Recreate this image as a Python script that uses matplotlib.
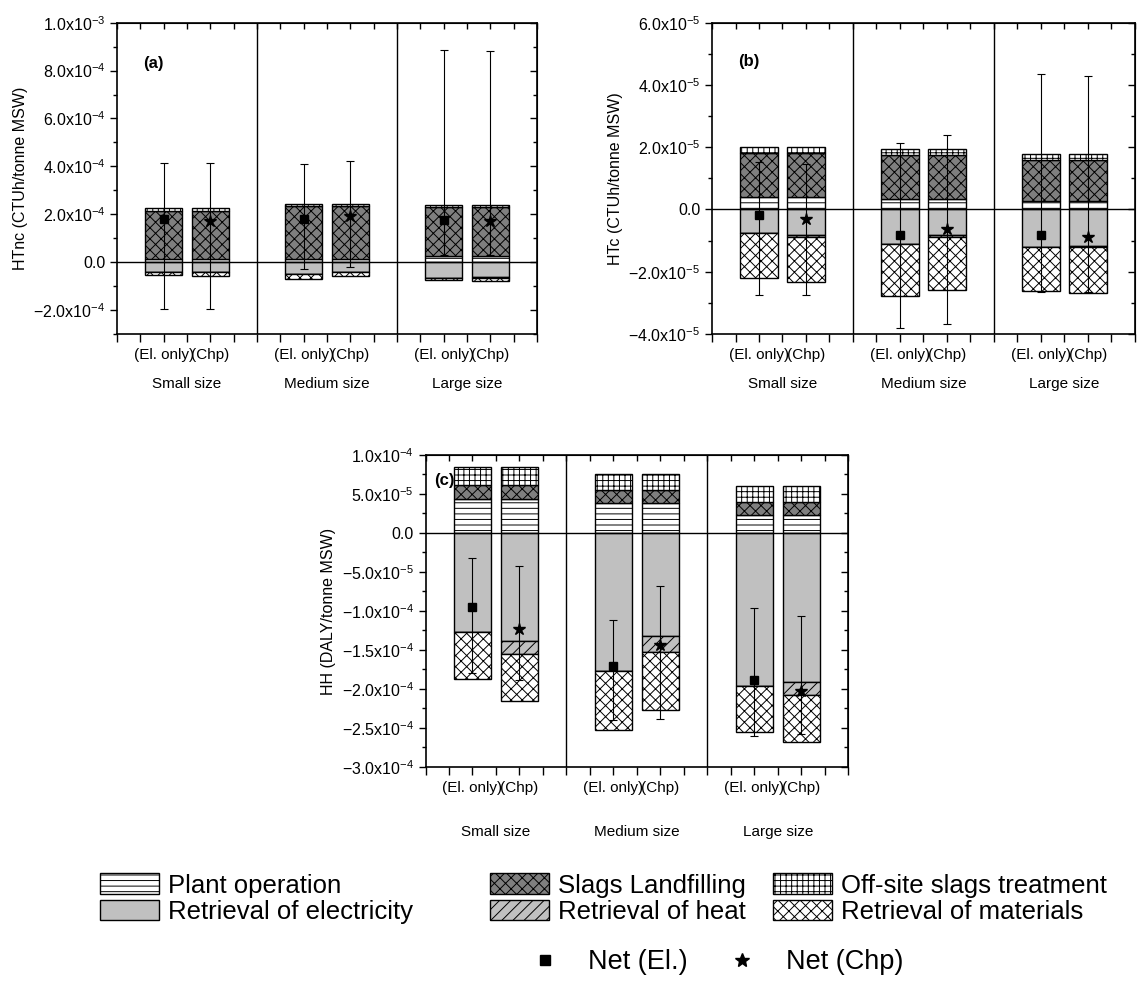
import matplotlib
matplotlib.use("Agg")
import matplotlib.pyplot as plt
import numpy as np
from matplotlib.patches import Patch
from matplotlib.lines import Line2D
from matplotlib.ticker import MultipleLocator, FuncFormatter

plt.rcParams['font.family'] = ['Liberation Sans', 'DejaVu Sans']
plt.rcParams['mathtext.fontset'] = 'custom'
plt.rcParams['mathtext.rm'] = 'Liberation Sans'
plt.rcParams['hatch.linewidth'] = 0.7

# bar order: small El, small Chp, medium El, medium Chp, large El, large Chp
positions = [1, 2, 4, 5, 7, 8]
bar_labels = ["(El. only)", "(Chp)"] * 3
sizes = ["Small size", "Medium size", "Large size"]
components = ["Plant operation", "Slags Landfilling", "Off-site slags treatment",
              "Retrieval of electricity", "Retrieval of heat", "Retrieval of materials"]

# (a) HTnc, units 1e-4
a_plant = [0.15, 0.15, 0.15, 0.15, 0.27, 0.27]
a_slag = [1.98, 1.98, 2.19, 2.19, 2.02, 2.02]
a_offsite = [0.11, 0.11, 0.08, 0.08, 0.09, 0.09]
a_elec = [-0.40, -0.40, -0.49, -0.40, -0.65, -0.62]
a_heat = [0.0, -0.03, 0.0, -0.03, 0.0, -0.03]
a_mat = [-0.12, -0.14, -0.22, -0.16, -0.10, -0.12]
a_net = [1.80, 1.72, 1.80, 1.91, 1.76, 1.72]
a_hi = [4.14, 4.12, 4.11, 4.24, 8.85, 8.83]
a_lo = [-1.97, -1.96, -0.30, -0.21, 0.30, 0.30]

# (b) HTc, units 1e-5
b_plant = [0.40, 0.40, 0.32, 0.32, 0.27, 0.27]
b_slag = [1.41, 1.41, 1.42, 1.42, 1.31, 1.31]
b_offsite = [0.20, 0.20, 0.21, 0.21, 0.20, 0.20]
b_elec = [-0.76, -0.83, -1.10, -0.81, -1.21, -1.17]
b_heat = [0.0, -0.07, 0.0, -0.09, 0.0, -0.05]
b_mat = [-1.43, -1.43, -1.68, -1.70, -1.42, -1.45]
b_net = [-0.18, -0.32, -0.83, -0.62, -0.83, -0.88]
b_hi = [1.52, 1.47, 2.12, 2.39, 4.34, 4.29]
b_lo = [-2.74, -2.74, -3.80, -3.68, -2.65, -2.65]

# (c) HH, units 1e-5
c_plant = [4.34, 4.34, 3.87, 3.87, 2.34, 2.34]
c_slag = [1.83, 1.83, 1.66, 1.66, 1.62, 1.62]
c_offsite = [2.26, 2.26, 2.04, 2.04, 2.00, 2.00]
c_elec = [-12.7, -13.8, -17.7, -13.2, -19.6, -19.1]
c_heat = [0.0, -1.7, 0.0, -2.0, 0.0, -1.7]
c_mat = [-6.0, -6.0, -7.5, -7.5, -5.9, -6.0]
c_net = [-9.5, -12.35, -17.0, -14.4, -18.8, -20.2]
c_hi = [-3.15, -4.2, -11.2, -6.8, -9.6, -10.6]
c_lo = [-18.0, -18.8, -24.0, -23.8, -26.0, -25.8]

styles = {
    "Plant operation": dict(facecolor="white", hatch="---"),
    "Slags Landfilling": dict(facecolor="#7f7f7f", hatch="xxx"),
    "Off-site slags treatment": dict(facecolor="white", hatch="+++"),
    "Retrieval of electricity": dict(facecolor="#c0c0c0", hatch=None),
    "Retrieval of heat": dict(facecolor="#c0c0c0", hatch="///"),
    "Retrieval of materials": dict(facecolor="white", hatch="xxx"),
}


def sci_label(v, pos=None):
    if abs(v) < 1e-12:
        return "0.0"
    e = int(np.floor(np.log10(abs(v)) + 1e-9))
    m = v / 10.0 ** e
    return r"$\mathregular{%.1fx10^{%d}}$" % (m, e)


def draw_panel(ax, scale, plant, slag, offsite, elec, heat, mat, net, hi, lo,
               ylim, major, minor, ylabel, tag, tag_xy, size_offset):
    x = np.array(positions, dtype=float)
    s = scale
    plant = np.array(plant) * s
    slag = np.array(slag) * s
    offsite = np.array(offsite) * s
    elec = np.array(elec) * s
    heat = np.array(heat) * s
    mat = np.array(mat) * s
    net = np.array(net) * s
    hi = np.array(hi) * s
    lo = np.array(lo) * s

    ax.text(tag_xy[0], tag_xy[1], tag, fontsize=12, fontweight="bold", zorder=1)

    kw = dict(width=0.8, edgecolor="black", linewidth=1.0, zorder=2)
    ax.bar(x, plant, **kw, **styles["Plant operation"])
    ax.bar(x, slag, bottom=plant, **kw, **styles["Slags Landfilling"])
    ax.bar(x, offsite, bottom=plant + slag, **kw, **styles["Off-site slags treatment"])
    ax.bar(x, elec, **kw, **styles["Retrieval of electricity"])
    ax.bar(x, heat, bottom=elec, **kw, **styles["Retrieval of heat"])
    ax.bar(x, mat, bottom=elec + heat, **kw, **styles["Retrieval of materials"])

    ax.axhline(0, color="black", lw=1.0, zorder=3)
    for d in (3, 6):
        ax.axvline(d, color="black", lw=1.0, zorder=3)

    ax.errorbar(x, net, yerr=[net - lo, hi - net], fmt="none", ecolor="black",
                elinewidth=0.8, capsize=3, capthick=0.8, zorder=4)
    ax.plot(x[0::2], net[0::2], "s", color="black", ms=6, zorder=5)
    ax.plot(x[1::2], net[1::2], "*", color="black", ms=9, zorder=5)

    ax.set_xlim(0, 9)
    ax.set_ylim(*ylim)
    ax.xaxis.set_major_locator(MultipleLocator(0.5))
    ax.xaxis.set_major_formatter(plt.NullFormatter())
    ax.yaxis.set_major_locator(MultipleLocator(major))
    ax.yaxis.set_minor_locator(MultipleLocator(minor))
    ax.yaxis.set_major_formatter(FuncFormatter(sci_label))
    ax.tick_params(axis="y", which="both", direction="out", labelsize=11.5,
                   length=5, width=1)
    ax.tick_params(axis="y", which="minor", length=3)
    ax.tick_params(axis="x", which="both", direction="out", length=6, width=1)

    # mirrored ticks on top and right point inwards
    top = ax.secondary_xaxis("top")
    top.xaxis.set_major_locator(MultipleLocator(0.5))
    top.xaxis.set_major_formatter(plt.NullFormatter())
    top.tick_params(direction="in", length=4, width=1)
    right = ax.secondary_yaxis("right")
    right.yaxis.set_major_locator(MultipleLocator(major))
    right.yaxis.set_minor_locator(MultipleLocator(minor))
    right.yaxis.set_major_formatter(plt.NullFormatter())
    right.tick_params(which="both", direction="in", length=5, width=1)
    right.tick_params(which="minor", length=3)

    for sp in ax.spines.values():
        sp.set_linewidth(1.2)
    ax.set_ylabel(ylabel, fontsize=11.5)

    for xi, lab in zip(x, bar_labels):
        ax.annotate(lab, xy=(xi, 0), xycoords=("data", "axes fraction"),
                    xytext=(0, -15), textcoords="offset points",
                    ha="center", va="center", fontsize=11)
    for xi, lab in zip([1.5, 4.5, 7.5], sizes):
        ax.annotate(lab, xy=(xi, 0), xycoords=("data", "axes fraction"),
                    xytext=(0, size_offset), textcoords="offset points",
                    ha="center", va="center", fontsize=11)


fig = plt.figure(figsize=(11.46, 9.88), dpi=100)
ax_a = fig.add_axes([0.1021, 0.662, 0.3665, 0.315])
ax_b = fig.add_axes([0.6213, 0.662, 0.369, 0.315])
ax_c = fig.add_axes([0.3713, 0.2237, 0.369, 0.3158])

draw_panel(ax_a, 1e-4, a_plant, a_slag, a_offsite, a_elec, a_heat, a_mat,
           a_net, a_hi, a_lo, (-3e-4, 1e-3), 2e-4, 1e-4,
           "HTnc (CTUh/tonne MSW)", "(a)", (0.55, 8.1e-4), -36)
draw_panel(ax_b, 1e-5, b_plant, b_slag, b_offsite, b_elec, b_heat, b_mat,
           b_net, b_hi, b_lo, (-4e-5, 6e-5), 2e-5, 1e-5,
           "HTc (CTUh/tonne MSW)", "(b)", (0.55, 4.6e-5), -36)
draw_panel(ax_c, 1e-5, c_plant, c_slag, c_offsite, c_elec, c_heat, c_mat,
           c_net, c_hi, c_lo, (-3e-4, 1e-4), 5e-5, 2.5e-5,
           "HH (DALY/tonne MSW)", "(c)", (0.18, 6.2e-5), -47)

# legend: three columns of patches
cols = [(components[0], components[3]), (components[1], components[4]),
        (components[2], components[5])]
col_x = [0.0873, 0.4276, 0.6745]
for cx, names in zip(col_x, cols):
    handles = [Patch(edgecolor="black", linewidth=1.0, label=n, **styles[n]) for n in names]
    fig.legend(handles=handles, loc="upper left", bbox_to_anchor=(cx, 0.116),
               frameon=False, fontsize=18.5, borderpad=0, borderaxespad=0,
               handlelength=2.3, handleheight=0.85, handletextpad=0.35,
               labelspacing=0.08)

net_handles = [Line2D([], [], ls="none", marker="s", color="black", ms=7, label="Net (El.)"),
               Line2D([], [], ls="none", marker="*", color="black", ms=10, label="Net (Chp)")]
fig.legend(handles=net_handles, loc="center", bbox_to_anchor=(0.62, 0.026),
           ncol=2, frameon=False, fontsize=19.5, handletextpad=0.6, columnspacing=1.0,
           borderpad=0, borderaxespad=0)

fig.savefig("out.png", dpi=100)
